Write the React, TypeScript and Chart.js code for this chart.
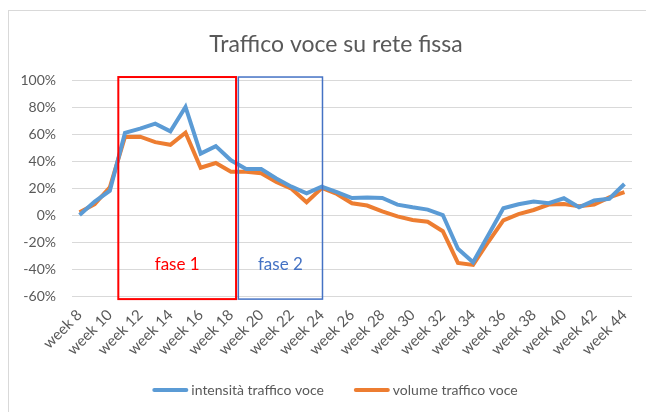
import React, { useEffect, useRef } from "react";
import { Chart, registerables } from "chart.js";

Chart.register(...registerables);

const weeks = [
  "week 8", "week 9", "week 10", "week 11", "week 12", "week 13", "week 14", "week 15",
  "week 16", "week 17", "week 18", "week 19", "week 20", "week 21", "week 22", "week 23",
  "week 24", "week 25", "week 26", "week 27", "week 28", "week 29", "week 30", "week 31",
  "week 32", "week 33", "week 34", "week 35", "week 36", "week 37", "week 38", "week 39",
  "week 40", "week 41", "week 42", "week 43", "week 44",
];

const intensita = [
  0, 10, 18, 60.8, 64, 67.7, 62, 80, 45.5, 51, 40.5,
  34, 34, 27, 21, 16, 21, 17, 12.6, 13, 12.6, 7.7, 5.7, 4,
  0, -25, -35, -15, 5, 8, 10, 8.7, 12.4, 5.7, 10.7, 12, 23,
];

const volume = [
  2, 8, 20.5, 57.8, 58, 54, 52, 61, 35, 38.5, 32,
  32, 31, 24.5, 19.5, 9.5, 20, 15.6, 8.7, 7, 2.7, -1, -3.7, -5,
  -12, -35.5, -37, -20, -4, 0.7, 3.7, 7.7, 8.2, 6.5, 7.7, 13, 17,
];

const seriesNames = ["intensità traffico voce", "volume traffico voce"];
const seriesColors = ["#5B9BD5", "#ED7D31"];
const titleText = "Traffico voce su rete fissa";

// phase boxes: [start index, end index, label, colour, line width]
const phases: [number, number, string, string, number][] = [
  [2.56, 10.34, "fase 1", "#FF0000", 2],
  [10.49, 16.05, "fase 2", "#4472C4", 1.5],
];
const phaseTop = 102.2;
const phaseBottom = -62.3;
const phaseLabelValue = -37;

const FONT = "Lato, 'Open Sans', sans-serif";
const TEXT = "#595959";

const decorPlugin = {
  id: "decor",
  beforeDraw(chart: any) {
    const ctx = chart.ctx;
    ctx.save();
    ctx.strokeStyle = "#D9D9D9";
    ctx.lineWidth = 1;
    ctx.strokeRect(8.5, 10.5, 800, 600);
    // title
    ctx.fillStyle = TEXT;
    ctx.font = `23px ${FONT}`;
    ctx.textAlign = "center";
    ctx.textBaseline = "alphabetic";
    ctx.fillText(titleText, 336, 52);
    // legend
    ctx.font = `14px ${FONT}`;
    ctx.textAlign = "left";
    const lineLen = 36;
    const gapText = 3;
    const gapItem = 30;
    const widths = seriesNames.map((n) => ctx.measureText(n).width);
    const total = widths.reduce((a, w) => a + lineLen + gapText + w, 0) + gapItem * (seriesNames.length - 1);
    let x = 335 - total / 2;
    const ly = 390;
    seriesNames.forEach((n, i) => {
      ctx.strokeStyle = seriesColors[i];
      ctx.lineWidth = 4;
      ctx.lineCap = "round";
      ctx.beginPath();
      ctx.moveTo(x + 2, ly);
      ctx.lineTo(x + lineLen - 2, ly);
      ctx.stroke();
      ctx.fillStyle = TEXT;
      ctx.fillText(n, x + lineLen + gapText, ly + 5);
      x += lineLen + gapText + widths[i] + gapItem;
    });
    ctx.restore();
  },
  afterDatasetsDraw(chart: any) {
    const ctx = chart.ctx;
    const x = chart.scales.x;
    const y = chart.scales.y;
    ctx.save();
    for (const [s, e, label, color, lw] of phases) {
      const x1 = x.getPixelForValue(s);
      const x2 = x.getPixelForValue(e);
      const y1 = y.getPixelForValue(phaseTop);
      const y2 = y.getPixelForValue(phaseBottom);
      ctx.strokeStyle = color;
      ctx.lineWidth = lw;
      ctx.strokeRect(x1, y1, x2 - x1, y2 - y1);
      ctx.fillStyle = color;
      ctx.font = `17px ${FONT}`;
      ctx.textAlign = "center";
      ctx.textBaseline = "middle";
      ctx.fillText(label, (x1 + x2) / 2, y.getPixelForValue(phaseLabelValue));
    }
    ctx.restore();
  },
};

export default function App() {
  const ref = useRef<HTMLCanvasElement | null>(null);
  useEffect(() => {
    if (!ref.current) return;
    const chart = new Chart(ref.current, {
      type: "line",
      data: {
        labels: weeks,
        datasets: [intensita, volume].map((d, i) => ({
          label: seriesNames[i],
          data: d,
          borderColor: seriesColors[i],
          backgroundColor: seriesColors[i],
          borderWidth: 4,
          pointRadius: 0,
          tension: 0,
        })),
      },
      options: {
        responsive: false,
        animation: false,
        layout: { padding: { left: 8, right: 14, top: 80, bottom: 0 } },
        plugins: {
          title: { display: false },
          legend: { display: false },
          tooltip: { enabled: false },
        },
        scales: {
          x: {
            offset: true,
            grid: { display: false },
            border: { display: false },
            ticks: {
              color: TEXT,
              font: { family: FONT, size: 15 },
              minRotation: 45,
              maxRotation: 45,
              autoSkip: false,
              padding: 2,
              callback: (_v: any, i: number) => (i % 2 === 0 ? weeks[i] : ""),
            },
            afterFit: (s: any) => {
              s.height = 116;
            },
          },
          y: {
            min: -60,
            max: 100,
            grid: { color: "#D9D9D9", lineWidth: 1, drawTicks: false },
            border: { display: false },
            ticks: {
              stepSize: 20,
              color: TEXT,
              font: { family: FONT, size: 14 },
              padding: 16,
              callback: (v: any) => `${v}%`,
            },
            afterFit: (s: any) => {
              s.width = 64;
            },
          },
        },
      },
      plugins: [decorPlugin],
    });
    return () => chart.destroy();
  }, []);
  return (
    <div style={{ position: "fixed", left: 0, top: 0, width: 646, height: 412, background: "#fff" }}>
      <canvas ref={ref} width={646} height={412} style={{ width: 646, height: 412 }} />
    </div>
  );
}
